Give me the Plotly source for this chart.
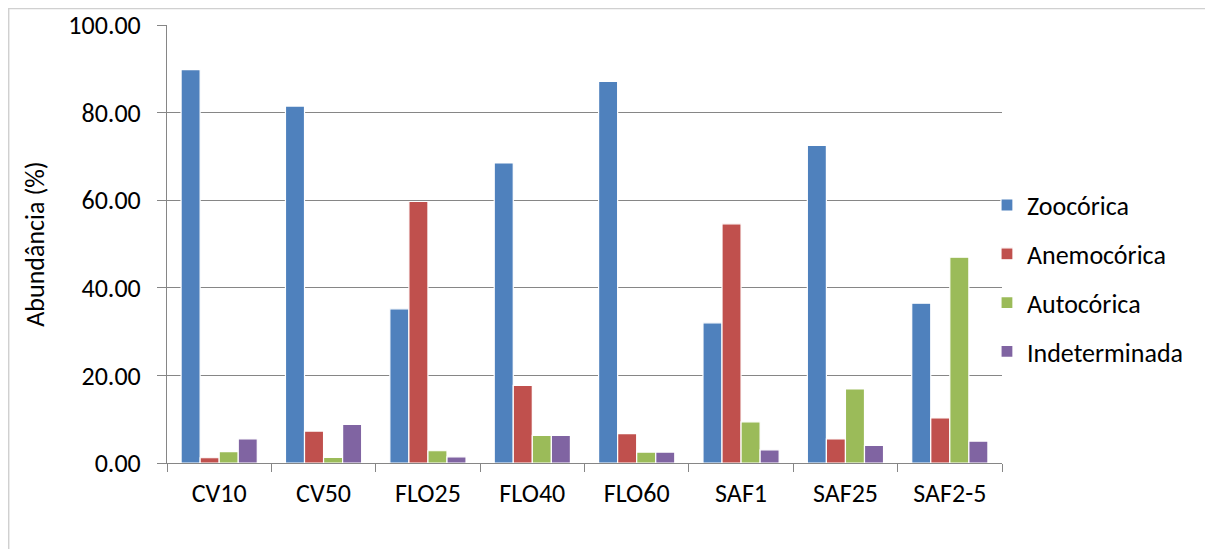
import plotly.graph_objects as go

categories = ["CV10", "CV50", "FLO25", "FLO40", "FLO60", "SAF1", "SAF25", "SAF2-5"]
zoocorica = [89.8, 81.5, 35.2, 68.5, 87.1, 32.0, 72.5, 36.5]
anemocorica = [1.2, 7.3, 59.7, 17.7, 6.7, 54.6, 5.5, 10.3]
autocorica = [2.6, 1.3, 2.8, 6.3, 2.5, 9.4, 16.9, 47.0]
indeterminada = [5.5, 8.8, 1.4, 6.3, 2.5, 3.0, 4.0, 5.0]

series = [
    ("Zoocórica", zoocorica, "#4F81BD"),
    ("Anemocórica", anemocorica, "#C0504D"),
    ("Autocórica", autocorica, "#9BBB59"),
    ("Indeterminada", indeterminada, "#8064A2"),
]

fig = go.Figure()
for i, (name, vals, col) in enumerate(series):
    fig.add_trace(go.Bar(
        x=categories, y=vals, name=name, legendgroup=str(i),
        marker=dict(color=col, line=dict(color="white", width=1.2)),
    ))

font = "Carlito, Calibri, 'Liberation Sans', Arial, sans-serif"
FS = 26
fig.update_layout(
    width=1205, height=541,
    margin=dict(l=159, r=211, t=17, b=86, autoexpand=False),
    paper_bgcolor="white", plot_bgcolor="white",
    barmode="group", bargap=0.27, bargroupgap=0,
    font=dict(family=font, size=FS, color="black"),
    showlegend=True,
    legend=dict(x=0.982, xanchor="left", y=0.421, yanchor="middle",
                font=dict(size=FS), tracegroupgap=12,
                bgcolor="rgba(0,0,0,0)"),
    xaxis=dict(showline=True, linecolor="#868686", linewidth=1,
               ticks="outside", tickson="boundaries", ticklen=8,
               tickcolor="#868686", showgrid=False, automargin=False,
               tickfont=dict(size=FS), ticklabelstandoff=7),
    yaxis=dict(range=[0, 100], dtick=20, tickformat=".2f",
               showline=True, linecolor="#868686", linewidth=1,
               ticks="outside", ticklen=9, tickcolor="#868686",
               showgrid=True, gridcolor="#868686", gridwidth=1,
               zeroline=False, tickfont=dict(size=FS), ticklabelstandoff=11,
               automargin=False,
               title=dict(text="Abundância (%)", font=dict(size=FS), standoff=16)),
    shapes=[dict(type="rect", xref="paper", yref="paper",
                 x0=-159 / 835 + 0.0008, x1=1.5, y0=-0.5, y1=1 + 17 / 438 - 0.001,
                 line=dict(color="#D0D0D0", width=1.5), fillcolor="rgba(0,0,0,0)")],
)

fig.write_html("out.html")
